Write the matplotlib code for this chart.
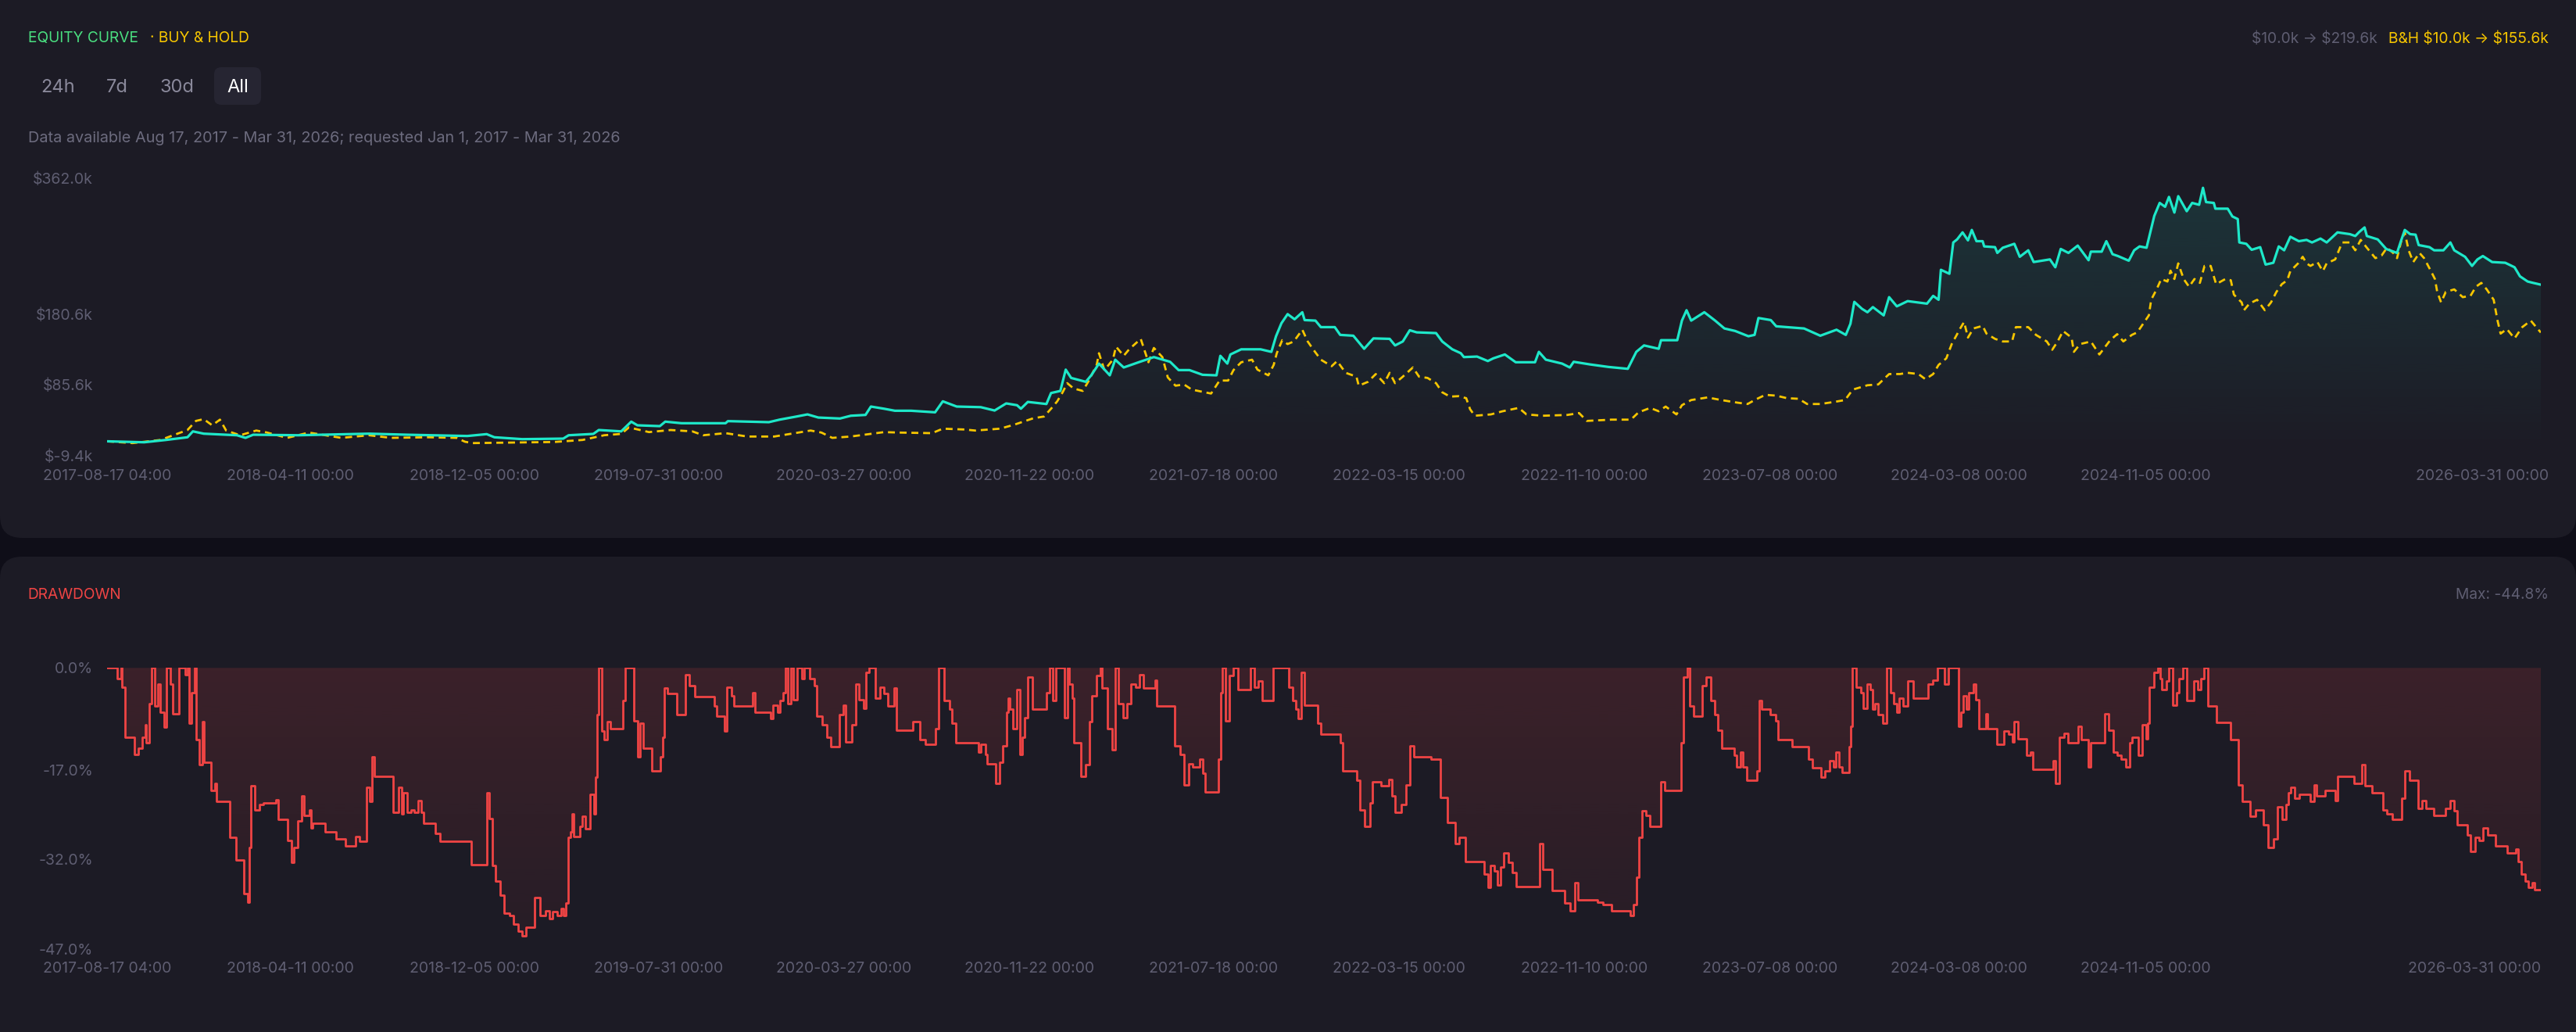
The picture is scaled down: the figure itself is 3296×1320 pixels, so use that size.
import numpy as np
import pandas as pd
import matplotlib
matplotlib.use('Agg')
import matplotlib.pyplot as plt
import matplotlib.colors as mcolors
from matplotlib.patches import FancyBboxPatch
from matplotlib.transforms import IdentityTransform, ScaledTranslation

# ---- data ----
start = pd.Timestamp('2017-08-17 04:00')

# strategy equity, days since start / value in $k
eq_days = [0, 48, 76, 104, 111, 125, 168, 179, 189, 247,
           339, 388, 466, 491, 501, 537, 590, 597, 629, 636,
           665, 678, 686, 715, 722, 743, 800, 803, 856, 870,
           892, 906, 920, 948, 962, 981, 988, 1005, 1019, 1040,
           1071, 1081, 1099, 1130, 1148, 1163, 1177, 1182, 1191, 1215,
           1221, 1233, 1240, 1247, 1266, 1273, 1283, 1297, 1304, 1315,
           1336, 1354, 1375, 1386, 1400, 1417, 1435, 1440, 1449, 1453,
           1467, 1492, 1506, 1512, 1519, 1527, 1536, 1546, 1549, 1563,
           1570, 1588, 1595, 1612, 1626, 1638, 1659, 1666, 1676, 1685,
           1694, 1719, 1727, 1740, 1751, 1755, 1772, 1786, 1793, 1808,
           1822, 1847, 1852, 1861, 1882, 1892, 1897, 1918, 1942, 1967,
           1978, 1988, 2007, 2010, 2031, 2037, 2043, 2049, 2066, 2080,
           2092, 2106, 2123, 2131, 2136, 2152, 2159, 2195, 2216, 2237,
           2249, 2255, 2260, 2270, 2277, 2284, 2298, 2305, 2315, 2329,
           2354, 2362, 2369, 2372, 2383, 2388, 2393, 2400, 2407, 2412,
           2418, 2426, 2428, 2442, 2445, 2452, 2467, 2474, 2485, 2492,
           2513, 2520, 2527, 2537, 2549, 2563, 2566, 2580, 2586, 2594,
           2601, 2615, 2622, 2629, 2638, 2648, 2655, 2662, 2667, 2674,
           2679, 2690, 2697, 2706, 2711, 2715, 2725, 2727, 2743, 2749,
           2756, 2758, 2767, 2774, 2785, 2792, 2802, 2809, 2816, 2824,
           2835, 2845, 2852, 2863, 2871, 2885, 2901, 2908, 2913, 2920,
           2923, 2937, 2948, 2962, 2967, 2972, 2979, 2986, 2990, 3004,
           3010, 3022, 3031, 3036, 3050, 3059, 3066, 3073, 3085, 3102,
           3114, 3121, 3131, 3138, 3148]
eq_vals = [10.0, 8.7, 11.8, 15.4, 23.3, 20.2, 18.1, 14.6, 18.8, 18.1,
           20.2, 18.8, 17.1, 19.6, 15.4, 12.9, 13.6, 18.1, 19.9, 25.1,
           23.3, 36.3, 31.4, 30.3, 36.3, 34.2, 34.2, 37.0, 35.6, 39.0,
           43.2, 46.0, 41.8, 40.5, 44.2, 45.3, 56.5, 53.6, 50.9, 50.9,
           48.8, 63.5, 56.5, 55.7, 51.2, 60.7, 58.3, 53.6, 62.7, 59.9,
           74.6, 77.4, 105.9, 94.8, 89.6, 98.3, 114.0, 98.3, 119.2, 108.8,
           116.4, 122.7, 116.4, 105.3, 105.3, 99.0, 98.3, 124.4, 114.0, 126.2,
           133.1, 133.1, 129.7, 150.6, 168.0, 180.2, 173.3, 182.7, 172.2, 171.5,
           162.8, 162.8, 152.4, 151.3, 133.8, 147.7, 147.1, 138.3, 143.6, 158.6,
           155.8, 154.8, 143.6, 133.1, 127.9, 122.7, 123.4, 117.4, 121.0, 126.2,
           115.8, 115.8, 129.7, 119.2, 114.0, 108.8, 116.4, 112.9, 109.5, 107.0,
           129.7, 138.3, 133.8, 145.3, 145.3, 171.5, 185.4, 171.5, 182.7, 171.5,
           161.0, 157.6, 150.6, 152.4, 175.0, 172.2, 163.9, 161.0, 151.3, 159.3,
           152.4, 167.3, 196.6, 187.2, 182.7, 189.6, 178.5, 202.9, 190.6, 197.6,
           194.2, 204.6, 199.4, 239.5, 234.2, 276.1, 280.2, 289.6, 278.9, 292.8,
           277.8, 277.8, 270.8, 269.8, 262.1, 269.0, 274.3, 256.9, 265.6, 249.9,
           253.4, 242.9, 267.4, 262.1, 271.9, 252.3, 263.8, 263.8, 277.8, 260.4,
           257.9, 251.7, 265.6, 270.8, 269.0, 311.6, 329.0, 323.8, 337.0, 316.1,
           338.0, 317.9, 329.0, 326.5, 349.2, 330.1, 329.0, 321.3, 321.3, 310.9,
           307.4, 276.1, 274.3, 266.3, 269.8, 246.5, 248.9, 270.8, 265.6, 283.7,
           277.8, 279.5, 276.1, 281.3, 276.1, 289.6, 287.2, 284.7, 290.0, 296.2,
           284.7, 280.2, 267.4, 262.1, 277.8, 292.8, 287.2, 286.5, 272.6, 269.8,
           265.6, 265.6, 276.1, 265.6, 256.9, 244.7, 253.4, 257.9, 249.9, 248.9,
           242.9, 230.8, 223.8, 222.0, 219.6]

# buy & hold
bh_days = [0, 33, 69, 104, 115, 125, 136, 146, 154, 172,
           193, 207, 233, 261, 303, 339, 367, 416, 452, 463,
           473, 579, 615, 643, 665, 675, 701, 729, 757, 771,
           800, 828, 863, 910, 924, 938, 962, 1005, 1024, 1067,
           1081, 1109, 1123, 1155, 1173, 1198, 1212, 1221, 1229, 1236,
           1242, 1250, 1262, 1269, 1280, 1283, 1290, 1301, 1305, 1315,
           1322, 1337, 1347, 1354, 1365, 1372, 1382, 1393, 1403, 1428,
           1439, 1450, 1457, 1467, 1481, 1488, 1502, 1509, 1513, 1520,
           1527, 1535, 1546, 1553, 1560, 1570, 1584, 1591, 1602, 1616,
           1619, 1631, 1641, 1652, 1659, 1666, 1676, 1689, 1697, 1708,
           1719, 1727, 1737, 1748, 1758, 1763, 1769, 1790, 1805, 1826,
           1836, 1857, 1889, 1904, 1914, 1946, 1971, 1981, 1996, 2007,
           2016, 2030, 2037, 2049, 2070, 2088, 2109, 2122, 2131, 2145,
           2159, 2173, 2188, 2199, 2216, 2234, 2248, 2258, 2277, 2291,
           2305, 2319, 2329, 2343, 2352, 2362, 2369, 2379, 2386, 2397,
           2402, 2407, 2414, 2426, 2431, 2442, 2452, 2464, 2469, 2485,
           2495, 2509, 2516, 2523, 2530, 2541, 2544, 2552, 2566, 2577,
           2591, 2600, 2608, 2619, 2626, 2634, 2641, 2644, 2651, 2657,
           2665, 2669, 2674, 2679, 2686, 2693, 2700, 2707, 2713, 2721,
           2728, 2740, 2747, 2751, 2761, 2764, 2771, 2781, 2791, 2799,
           2806, 2813, 2820, 2824, 2834, 2840, 2845, 2850, 2859, 2866,
           2871, 2882, 2891, 2901, 2908, 2915, 2923, 2934, 2942, 2949,
           2957, 2962, 2967, 2972, 2977, 2983, 2991, 2997, 3005, 3011,
           3014, 3019, 3025, 3036, 3047, 3057, 3064, 3071, 3078, 3087,
           3092, 3096, 3104, 3114, 3124, 3135, 3142, 3148]
bh_vals = [10.0, 7.6, 11.8, 25.1, 37.3, 39.7, 31.4, 39.0, 24.4, 18.1,
           24.4, 21.7, 14.6, 21.7, 14.6, 18.1, 14.6, 15.4, 14.6, 9.4,
           7.6, 9.1, 11.8, 18.1, 19.9, 28.6, 22.3, 25.1, 23.3, 18.1,
           20.9, 16.4, 16.4, 24.4, 21.7, 14.6, 16.4, 22.3, 21.7, 20.9,
           26.9, 25.8, 24.4, 26.9, 32.1, 40.8, 43.2, 53.6, 63.5, 75.6,
           87.8, 80.8, 77.4, 89.6, 112.2, 127.9, 105.3, 119.2, 136.7, 124.4,
           133.1, 147.1, 115.8, 134.9, 122.7, 95.5, 84.4, 86.1, 79.2, 73.9,
           91.3, 91.3, 105.3, 115.8, 119.2, 105.9, 98.3, 112.2, 127.9, 145.3,
           140.1, 143.6, 159.3, 143.6, 133.1, 119.2, 110.5, 117.4, 101.7, 96.5,
           84.4, 89.6, 100.0, 87.8, 101.7, 87.8, 96.5, 108.8, 96.5, 94.8,
           87.8, 75.6, 69.8, 70.4, 67.7, 53.0, 44.2, 46.0, 50.2, 54.7,
           46.0, 44.2, 45.3, 47.8, 37.3, 39.0, 39.0, 48.8, 54.7, 50.2,
           56.5, 46.0, 58.3, 65.2, 68.7, 65.2, 61.7, 59.9, 65.2, 72.2,
           71.1, 67.7, 66.9, 59.9, 59.9, 62.7, 65.2, 79.2, 85.0, 86.1,
           100.0, 100.0, 101.7, 100.0, 93.1, 100.0, 112.2, 121.0, 140.1, 161.0,
           169.7, 148.8, 161.0, 164.5, 154.1, 147.1, 143.6, 143.6, 162.8, 162.8,
           152.4, 143.6, 132.5, 143.6, 157.6, 148.8, 129.7, 140.1, 143.6, 126.2,
           145.3, 153.4, 143.6, 152.4, 155.8, 168.0, 178.5, 199.4, 213.3, 227.2,
           223.8, 238.4, 227.2, 248.1, 227.2, 216.8, 227.2, 222.0, 244.7, 244.7,
           220.3, 227.2, 225.5, 206.3, 195.9, 185.4, 194.2, 199.4, 185.4, 195.9,
           209.9, 220.3, 225.5, 237.7, 248.1, 256.9, 248.1, 244.7, 249.9, 237.7,
           248.1, 253.4, 276.1, 276.1, 265.6, 279.5, 269.0, 255.1, 258.6, 269.0,
           262.1, 255.1, 276.1, 289.6, 265.6, 249.9, 262.1, 255.1, 239.5, 227.2,
           209.9, 195.9, 209.9, 213.3, 202.9, 204.6, 216.8, 222.0, 213.3, 199.4,
           171.5, 154.1, 160.3, 147.7, 162.8, 171.5, 162.8, 155.6]

# drawdown, days since start / percent
dd_days = [0, 13, 18, 19, 23, 35, 40, 45, 50, 51,
           55, 58, 62, 66, 69, 74, 77, 82, 85, 93,
           101, 104, 106, 109, 113, 115, 119, 123, 125, 134,
           140, 142, 159, 167, 177, 182, 184, 186, 191, 197,
           202, 218, 221, 234, 239, 242, 247, 252, 255, 262,
           264, 266, 282, 296, 308, 321, 327, 336, 340, 343,
           346, 370, 377, 381, 383, 388, 393, 397, 402, 406,
           409, 425, 431, 471, 491, 494, 498, 502, 508, 514,
           521, 526, 532, 537, 542, 553, 560, 567, 572, 576,
           582, 587, 590, 593, 596, 599, 601, 604, 612, 615,
           619, 625, 630, 632, 634, 636, 640, 643, 647, 651,
           667, 670, 681, 686, 689, 693, 705, 716, 719, 721,
           725, 737, 748, 753, 760, 785, 789, 799, 802, 808,
           811, 835, 838, 858, 861, 867, 870, 874, 877, 881,
           885, 888, 893, 899, 902, 909, 915, 918, 925, 931,
           936, 947, 952, 955, 963, 968, 973, 979, 982, 986,
           994, 1000, 1005, 1010, 1018, 1021, 1042, 1051, 1058, 1072,
           1076, 1083, 1090, 1093, 1098, 1127, 1130, 1136, 1138, 1149,
           1154, 1159, 1164, 1166, 1168, 1172, 1177, 1181, 1184, 1187,
           1191, 1197, 1215, 1219, 1223, 1227, 1238, 1242, 1244, 1248,
           1251, 1260, 1266, 1271, 1274, 1280, 1285, 1287, 1294, 1300,
           1304, 1308, 1314, 1319, 1324, 1330, 1335, 1340, 1356, 1358,
           1381, 1388, 1393, 1399, 1404, 1413, 1417, 1420, 1438, 1441,
           1443, 1447, 1452, 1457, 1463, 1479, 1484, 1489, 1494, 1508,
           1529, 1534, 1538, 1541, 1545, 1549, 1566, 1570, 1595, 1598,
           1616, 1621, 1627, 1634, 1637, 1648, 1658, 1662, 1666, 1674,
           1680, 1685, 1690, 1712, 1725, 1734, 1744, 1749, 1757, 1781,
           1786, 1789, 1794, 1798, 1802, 1807, 1813, 1818, 1823, 1853,
           1857, 1869, 1885, 1892, 1898, 1903, 1928, 1935, 1946, 1970,
           1974, 1978, 1981, 1985, 1991, 1996, 2010, 2015, 2036, 2039,
           2044, 2047, 2052, 2063, 2068, 2074, 2079, 2084, 2089, 2105,
           2108, 2113, 2116, 2121, 2134, 2137, 2140, 2151, 2158, 2161,
           2180, 2201, 2206, 2217, 2222, 2228, 2233, 2236, 2240, 2244,
           2253, 2255, 2257, 2262, 2268, 2272, 2277, 2281, 2284, 2287,
           2291, 2297, 2302, 2307, 2311, 2315, 2318, 2323, 2329, 2336,
           2355, 2361, 2368, 2377, 2382, 2395, 2398, 2401, 2405, 2408,
           2414, 2417, 2421, 2430, 2432, 2444, 2454, 2460, 2465, 2467,
           2472, 2483, 2488, 2491, 2517, 2520, 2525, 2531, 2536, 2550,
           2554, 2563, 2566, 2584, 2589, 2595, 2600, 2605, 2611, 2616,
           2619, 2627, 2632, 2637, 2640, 2642, 2648, 2653, 2656, 2658,
           2664, 2667, 2672, 2677, 2680, 2685, 2690, 2699, 2704, 2708,
           2712, 2717, 2728, 2747, 2757, 2762, 2772, 2779, 2789, 2795,
           2802, 2807, 2813, 2818, 2821, 2825, 2830, 2836, 2850, 2855,
           2858, 2869, 2882, 2885, 2906, 2917, 2921, 2930, 2944, 2949,
           2956, 2968, 2972, 2978, 2989, 2994, 2999, 3010, 3025, 3031,
           3036, 3040, 3053, 3057, 3063, 3068, 3073, 3079, 3089, 3105,
           3116, 3119, 3123, 3128, 3132, 3137, 3140, 3148]
dd_vals = [0.0, -1.8, 0.0, -3.2, -11.6, -14.4, -13.4, -11.6, -9.5, -12.5,
           -6.0, 0.0, -6.4, -2.7, -7.4, -9.9, 0.0, -2.7, -7.6, 0.0,
           -1.1, 0.0, -9.2, -4.1, 0.0, -12.0, -16.2, -9.0, -15.8, -20.4,
           -19.3, -22.3, -28.3, -32.1, -37.7, -39.1, -30.0, -19.7, -23.7, -22.8,
           -22.5, -22.0, -25.3, -28.8, -32.5, -30.0, -25.5, -21.4, -24.6, -23.7,
           -26.7, -26.0, -27.4, -28.6, -29.7, -28.1, -29.0, -20.0, -22.3, -14.8,
           -18.1, -24.1, -20.0, -24.4, -20.9, -24.1, -23.7, -24.1, -22.1, -24.1,
           -26.0, -27.6, -29.0, -32.8, -20.9, -25.1, -33.0, -35.6, -37.9, -40.9,
           -41.4, -42.8, -44.0, -44.8, -43.3, -38.4, -41.4, -40.5, -41.9, -40.7,
           -41.4, -40.2, -41.4, -39.3, -28.3, -27.4, -24.4, -28.1, -26.5, -24.8,
           -26.9, -21.1, -24.4, -18.3, -7.8, 0.0, -10.6, -12.0, -9.0, -10.2,
           -5.5, 0.0, -8.8, -14.8, -9.2, -13.4, -17.2, -14.8, -11.6, -3.4,
           -4.3, -7.8, -1.1, -2.9, -4.8, -6.4, -8.1, -10.6, -3.2, -4.6,
           -6.4, -4.1, -7.4, -8.5, -6.2, -7.4, -5.5, -4.1, 0.0, -6.0,
           0.0, -5.3, 0.0, -1.8, 0.0, -1.8, -2.9, -8.1, -9.5, -11.6,
           -13.2, -7.8, -6.2, -12.3, -9.5, -2.7, -5.3, -6.7, -0.8, 0.0,
           -5.0, -3.2, -4.3, -6.4, -3.4, -10.4, -9.0, -12.0, -12.7, -10.2,
           0.0, -5.5, -6.9, -9.2, -12.5, -14.1, -12.7, -14.4, -16.0, -19.3,
           -15.8, -13.0, -7.4, -5.0, -6.9, -10.2, -3.6, -14.4, -11.6, -8.3,
           -1.5, -6.9, -4.1, 0.0, -5.5, 0.0, -8.3, 0.0, -2.7, -5.0,
           -12.5, -18.1, -16.2, -9.0, -4.6, -1.3, 0.0, -3.4, -10.2, -13.7,
           0.0, -6.0, -8.3, -6.0, -2.7, -3.2, -1.1, -3.4, -2.0, -6.4,
           -13.0, -14.4, -19.5, -16.0, -16.5, -15.3, -17.6, -20.7, -15.3, -4.1,
           0.0, -8.8, -1.3, 0.0, -3.6, 0.0, -3.2, -2.2, -5.5, 0.0,
           -3.2, -5.5, -6.9, -8.5, -0.8, -6.2, -9.2, -11.0, -12.5, -17.2,
           -18.8, -23.7, -26.5, -22.5, -19.0, -19.7, -18.6, -21.4, -24.1, -22.8,
           -19.5, -13.0, -14.8, -15.3, -21.6, -25.8, -29.3, -28.3, -32.3, -34.4,
           -36.7, -33.0, -33.9, -36.3, -33.2, -30.9, -32.5, -34.2, -36.5, -29.3,
           -33.7, -37.2, -39.3, -40.5, -35.8, -38.8, -39.1, -39.5, -40.5, -41.4,
           -39.5, -34.9, -28.3, -23.9, -24.6, -26.5, -19.0, -20.4, -12.5, -1.5,
           0.0, -6.4, -8.1, -2.9, -1.5, -5.5, -7.8, -10.4, -13.4, -14.6,
           -16.5, -14.1, -16.5, -18.8, -17.2, -5.5, -6.9, -7.8, -8.8, -12.0,
           -13.2, -15.3, -16.7, -18.3, -17.2, -15.5, -16.5, -14.1, -16.5, -17.4,
           -13.2, -9.7, 0.0, -3.2, -4.1, -6.7, -2.7, -3.6, -6.9, -6.0,
           -7.8, -9.2, 0.0, -4.1, -6.0, -7.4, -5.0, -6.4, -2.2, -5.0,
           -2.7, -2.0, 0.0, -2.7, 0.0, -9.7, -7.4, -4.6, -6.9, -4.1,
           -2.7, -5.3, -10.2, -7.6, -10.2, -12.7, -10.6, -11.1, -12.3, -9.0,
           -11.8, -14.6, -14.1, -16.9, -15.5, -19.3, -11.6, -10.9, -12.5, -9.7,
           -12.0, -16.5, -12.5, -7.6, -10.4, -14.1, -14.6, -15.3, -16.5, -12.5,
           -11.6, -14.6, -9.5, -11.8, -9.2, -3.2, -0.8, 0.0, -1.8, -3.6,
           -2.2, 0.0, -6.2, -4.1, -1.8, 0.0, -5.5, -2.2, -3.6, -1.8,
           0.0, -6.4, -9.1, -12.0, -19.5, -22.3, -24.8, -23.7, -26.2, -30.0,
           -28.6, -23.2, -25.3, -22.8, -20.9, -20.0, -21.8, -21.1, -22.3, -19.5,
           -21.4, -20.4, -22.1, -18.1, -19.3, -16.2, -19.7, -20.9, -23.7, -24.4,
           -25.3, -21.8, -17.2, -18.8, -23.4, -22.1, -23.4, -24.6, -23.4, -22.1,
           -23.9, -26.2, -27.9, -30.7, -28.3, -28.8, -26.7, -27.9, -29.7, -30.9,
           -30.2, -32.3, -34.4, -35.6, -36.7, -35.8, -37.1, -37.1]

tick_dates = ['2017-08-17 04:00', '2018-04-11 00:00', '2018-12-05 00:00', '2019-07-31 00:00',
              '2020-03-27 00:00', '2020-11-22 00:00', '2021-07-18 00:00', '2022-03-15 00:00',
              '2022-11-10 00:00', '2023-07-08 00:00', '2024-03-08 00:00', '2024-11-05 00:00',
              '2026-03-31 00:00']
eq_ticks = [-9.4, 85.6, 180.6, 362.0]
eq_tick_labels = ['\\$-9.4k', '\\$85.6k', '\\$180.6k', '\\$362.0k']
dd_ticks = [0.0, -17.0, -32.0, -47.0]
dd_tick_labels = ['0.0%', '-17.0%', '-32.0%', '-47.0%']

# ---- style ----
PAGE = '#0f0e18'
CARD = '#1c1b25'
MUTED = '#5f5e72'
TEAL = '#1ee8c9'
YELLOW = '#f7c600'
RED = '#ef4444'
GREEN = '#4ade80'

plt.rcParams['font.family'] = ['Inter', 'DejaVu Sans']

W, H = 3296, 1320
fig = plt.figure(figsize=(W / 100, H / 100), dpi=100, facecolor=PAGE)


def card(x0, y0, x1, y1, r):
    p = FancyBboxPatch((x0, H - y1), x1 - x0, y1 - y0,
                       boxstyle='round,pad=0,rounding_size=%d' % r,
                       transform=IdentityTransform(), facecolor=CARD,
                       edgecolor='none', zorder=-2)
    fig.patches.append(p)


def txt(x, y, s, size, color, ha='left', **kw):
    fig.text(x / W, 1 - y / H, s, fontsize=size, color=color, ha=ha,
             va='baseline', **kw)


card(0, -30, W, 688, 28)
card(0, 712, W, 1350, 28)

# button highlight
fig.patches.append(FancyBboxPatch((274, H - 134), 60, 48,
                                  boxstyle='round,pad=0,rounding_size=9',
                                  transform=IdentityTransform(),
                                  facecolor='#262532', edgecolor='none', zorder=-1))

txt(36, 54, 'EQUITY CURVE', 13.8, GREEN)
txt(192, 54, '· BUY & HOLD', 13.8, YELLOW)
txt(3261, 55, 'B&H \\$10.0k → \\$155.6k', 13.8, YELLOW, ha='right')
txt(3042, 55, '\\$10.0k → \\$219.6k', 13.8, MUTED, ha='right')
txt(52, 118, '24h', 17, '#8a899b')
txt(136, 118, '7d', 17, '#8a899b')
txt(204, 118, '30d', 17, '#8a899b')
txt(290, 118, 'All', 17, '#ffffff')
txt(36, 182, 'Data available Aug 17, 2017 - Mar 31, 2026; requested Jan 1, 2017 - Mar 31, 2026',
    14.3, '#6c6b7e')
txt(35, 766, 'DRAWDOWN', 13.8, RED)
txt(3261, 766, 'Max: -44.8%', 13.8, MUTED, ha='right')

eq_x = start + pd.to_timedelta(eq_days, unit='D')
bh_x = start + pd.to_timedelta(bh_days, unit='D')
dd_x = start + pd.to_timedelta(dd_days, unit='D')
end = start + pd.Timedelta(days=3148)
ticks = pd.to_datetime(tick_dates, format='%Y-%m-%d %H:%M')
tick_labels = [t.strftime('%Y-%m-%d %H:%M') for t in ticks]

ax1 = fig.add_axes([137 / W, 1 - 583 / H, (3251 - 137) / W, (583 - 228) / H])
ax2 = fig.add_axes([137 / W, 1 - 1214.3 / H, (3251 - 137) / W, (1214.3 - 854.3) / H])


def gradient_fill(ax, x, y, base, color, a_top, a_bot, ylo, yhi, step=None):
    poly = ax.fill_between(x, y, base, facecolor='none', edgecolor='none', step=step)
    path = poly.get_paths()[0]
    grad = np.zeros((256, 1, 4))
    grad[:, :, :3] = mcolors.to_rgb(color)
    grad[:, 0, 3] = np.linspace(a_bot, a_top, 256)
    x0, x1 = ax.get_xlim()
    im = ax.imshow(grad, extent=[x0, x1, ylo, yhi], origin='lower',
                   aspect='auto', zorder=1, interpolation='bilinear')
    im.set_clip_path(path, transform=ax.transData)


for ax in (ax1, ax2):
    ax.set_facecolor('none')
    for s in ax.spines.values():
        s.set_visible(False)
    ax.set_xlim(start, end)

ax1.set_ylim(-9.4, 362.0)
ax2.set_ylim(-47.0, 0.0)

gradient_fill(ax1, eq_x, eq_vals, -9.4, TEAL, 0.13, 0.0, -9.4, 362.0)
ax1.plot(bh_x, bh_vals, color=YELLOW, lw=2.0, dashes=(3.2, 2.2), zorder=3)
ax1.plot(eq_x, eq_vals, color=TEAL, lw=2.3, zorder=4)

gradient_fill(ax2, dd_x, dd_vals, 0.0, RED, 0.15, 0.05, -47.0, 0.0, step='post')
ax2.plot(dd_x, dd_vals, color=RED, lw=2.0, drawstyle='steps-post', zorder=4)

for ax in (ax1, ax2):
    ax.set_xlim(start, end)
    ax.set_xticks(ticks)
    ax.set_xticklabels(tick_labels)
    ax.tick_params(length=0, labelsize=14, labelcolor=MUTED)
    ax.tick_params(axis='x', pad=12)
    ax.tick_params(axis='y', pad=13)
    lab = ax.get_xticklabels()[-1]
    lab.set_horizontalalignment('right')
    lab.set_transform(lab.get_transform() + ScaledTranslation(0.1, 0, fig.dpi_scale_trans))

ax1.set_ylim(-9.4, 362.0)
ax1.set_yticks(eq_ticks)
ax1.set_yticklabels(eq_tick_labels)
ax2.set_ylim(-47.0, 0.0)
ax2.set_yticks(dd_ticks)
ax2.set_yticklabels(dd_tick_labels)
ax2.tick_params(axis='x', pad=11.5)

fig.savefig('out.png', dpi=100, facecolor=PAGE)
